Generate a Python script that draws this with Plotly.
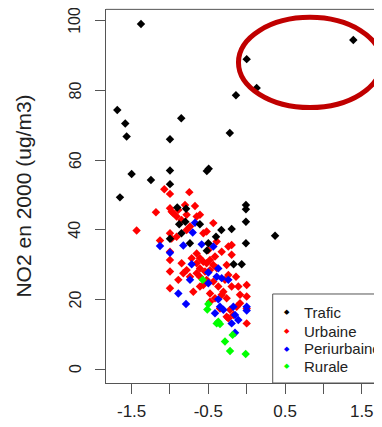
import plotly.graph_objects as go

# ---- data (x: unnamed explanatory variable, y: NO2 in 2000, ug/m3) ----
trafic_x = [-1.378, 0.0, 0.13, -0.14, 1.39, -1.687, -1.583, -0.853, -1.565, -1.0, -0.22,
            -1.5, -1.248, -1.0, -1.0, -0.52, -0.495, -1.652, -0.905, -0.79, -0.01, -0.01,
            -0.80, -0.88, -0.61, -0.01, -0.85, -0.33, -0.196, 0.37, -0.40, -1.0, -0.74,
            -0.50, -0.01, -0.52, -0.17, -0.065]
trafic_y = [99.1, 89.0, 80.7, 78.6, 94.5, 74.4, 70.5, 72.0, 66.8, 66.0, 67.8,
            56.0, 54.3, 57.0, 53.1, 56.9, 57.5, 49.3, 46.4, 46.0, 47.1, 45.9,
            42.3, 41.6, 41.6, 42.3, 39.0, 39.9, 40.2, 38.3, 38.0, 37.4, 36.1,
            36.1, 36.1, 34.0, 30.1, 30.1]

urbaine_x = [-1.074, -1.0, -0.748, -1.183, -1.435, -1.0, -0.957, -0.913, -0.978, -0.804,
             -0.674, -0.652, -0.609, -0.435, -1.13, -1.0, -0.978, -0.783, -0.739, -0.565,
             -0.522, -0.391, -0.196, -0.196, -1.0, -1.0, -1.0, -0.848, -0.783, -0.652,
             -0.609, -0.565, -0.522, -0.478, -0.435, -0.609, -0.543, -0.478, -0.652, -0.413,
             -0.261, -0.239, -0.139, -0.109, 0.0, 0.0, -0.891, -1.0, -0.696, -0.609,
             -0.478, -0.413, -0.304, -0.261, -0.217, -0.174, -0.239, -0.087, 0.0, 0.0,
             -0.087, -0.609, -0.522, -0.435, -0.565, -0.370, -0.326, -0.739, -0.826, -0.891,
             -0.848, -0.783, -0.478, -0.261, -0.130, -0.348, -0.283, -0.652, -0.717, -0.5,
             -0.326, -0.239, -0.913, -0.196, -0.391]
urbaine_y = [51.6, 50.3, 50.8, 45.0, 39.8, 46.2, 44.7, 43.8, 45.2, 47.1,
             46.8, 43.8, 44.3, 41.9, 36.9, 39.0, 37.5, 39.9, 40.9, 39.0,
             39.5, 36.6, 35.6, 32.8, 33.7, 31.3, 28.0, 30.4, 28.4, 33.2,
             31.8, 30.8, 30.4, 31.3, 29.9, 28.9, 28.0, 28.4, 27.5, 32.3,
             29.9, 27.0, 26.5, 23.7, 24.1, 20.8, 25.6, 23.2, 22.2, 23.7,
             21.7, 20.3, 22.2, 20.3, 17.0, 15.5, 14.6, 18.9, 17.4, 13.1,
             21.3, 26.5, 25.6, 25.1, 24.1, 23.7, 21.3, 26.5, 27.5, 45.7,
             42.8, 44.3, 19.3, 15.0, 17.9, 17.4, 25.6, 30.4, 31.8, 34.2,
             33.7, 35.2, 38.0, 23.7, 29.0]

periurbaine_x = [-0.674, -0.704, -1.13, -1.0, -0.826, -0.587, -0.435, -0.717, -0.5, -0.370,
                 -0.391, -0.326, -0.239, -0.739, -0.5, -0.891, -0.791, -0.370, -0.348, -0.304,
                 -0.413, -0.174, -0.152, -0.109, -0.196, 0.0, 0.0, -0.152]
periurbaine_y = [42.0, 39.2, 35.3, 33.4, 35.5, 35.8, 35.2, 30.1, 27.7, 28.9,
                 26.5, 26.1, 25.6, 25.6, 24.6, 21.7, 18.7, 20.0, 17.9, 17.0,
                 16.0, 17.9, 15.5, 14.1, 13.1, 17.9, 16.8, 10.4]

rurale_x = [-0.574, -0.5, -0.513, -0.370, -0.348, -0.391, -0.183, -0.283, -0.217, -0.013]
rurale_y = [25.6, 18.7, 17.1, 13.6, 12.9, 13.1, 9.8, 7.9, 5.2, 4.3]

legend_labels = ["Trafic", "Urbaine", "Periurbaine", "Rurale"]
legend_colors = ["#000000", "#ff0000", "#0000ff", "#00ff00"]

x_tickvals = [-1.5, -1.0, -0.5, 0.0, 0.5, 1.0, 1.5]
x_ticktext = ["-1.5", "", "-0.5", "", "0.5", "", "1.5"]
y_tickvals = [0, 20, 40, 60, 80, 100]

FONT = "Liberation Sans, Arial, sans-serif"
AX = "#555555"
TXT = "#222222"

fig = go.Figure()
series = [
    ("Urbaine", urbaine_x, urbaine_y, "#ff0000"),
    ("Periurbaine", periurbaine_x, periurbaine_y, "#0000ff"),
    ("Rurale", rurale_x, rurale_y, "#00ff00"),
    ("Trafic", trafic_x, trafic_y, "#000000"),
]
for name, xs, ys, col in series:
    fig.add_trace(go.Scatter(
        x=xs, y=ys, mode="markers", name=name, showlegend=False,
        marker=dict(symbol="diamond", size=6.5, color=col, line=dict(width=0)),
    ))

annotations = []
# rotated y tick labels (R las=0 style), centred on their ticks
for v in y_tickvals:
    annotations.append(dict(xref="paper", yref="y", x=-0.1123, y=v, text=str(v),
                            textangle=-90, showarrow=False,
                            xanchor="center", yanchor="middle",
                            font=dict(size=16, color=TXT, family=FONT)))
# legend drawn as a boxed list (R-style legend)
row_y = [0.1893, 0.1387, 0.0915, 0.0453]
for lab, col, yy in zip(legend_labels, legend_colors, row_y):
    annotations.append(dict(xref="paper", yref="paper", x=0.656, y=yy, text="◆",
                            showarrow=False, xanchor="center", yanchor="middle",
                            font=dict(size=7, color=col, family="DejaVu Sans")))
    annotations.append(dict(xref="paper", yref="paper", x=0.709, y=yy, text=lab,
                            showarrow=False, xanchor="left", yanchor="middle",
                            font=dict(size=15, color=TXT, family=FONT)))

# the page adds an 8px body margin, so the figure is 8px smaller than the window
fig.update_layout(
    width=374, height=419,
    margin=dict(l=98, r=0, t=1, b=44),
    paper_bgcolor="white", plot_bgcolor="white",
    font=dict(family=FONT, color=TXT),
    showlegend=False,
    annotations=annotations,
    xaxis=dict(range=[-1.834, 1.764], tickvals=x_tickvals, ticktext=x_ticktext,
               automargin=False, ticklabeloverflow="allow",
               showgrid=False, zeroline=False, showline=True, linecolor=AX, linewidth=1,
               ticks="outside", ticklen=10, tickcolor=AX, tickwidth=1,
               tickfont=dict(size=17, family=FONT, color=TXT),
               ticklabelstandoff=3),
    yaxis=dict(range=[-4.02, 103.4], tickvals=y_tickvals, automargin=False,
               showticklabels=False,
               showgrid=False, zeroline=False, showline=True, linecolor=AX, linewidth=1,
               ticks="outside", ticklen=10, tickcolor=AX, tickwidth=1,
               title=dict(text="NO2 en 2000 (ug/m3)", font=dict(size=21, family=FONT, color=TXT),
                          standoff=57)),
    shapes=[
        # top border of the plot box
        dict(type="line", xref="paper", yref="paper", x0=0, x1=1, y0=0.999, y1=0.999,
             line=dict(color=AX, width=1)),
        # legend box
        dict(type="rect", xref="paper", yref="paper", x0=0.604, x1=1.05, y0=0, y1=0.238,
             line=dict(color=AX, width=1), fillcolor="white", layer="above"),
        # red highlighting ellipse
        dict(type="circle", xref="x", yref="y", x0=-0.107, x1=1.757, y0=75.1, y1=101.0,
             line=dict(color="#c00000", width=5), layer="above"),
    ],
)

fig.write_html("out.html")
